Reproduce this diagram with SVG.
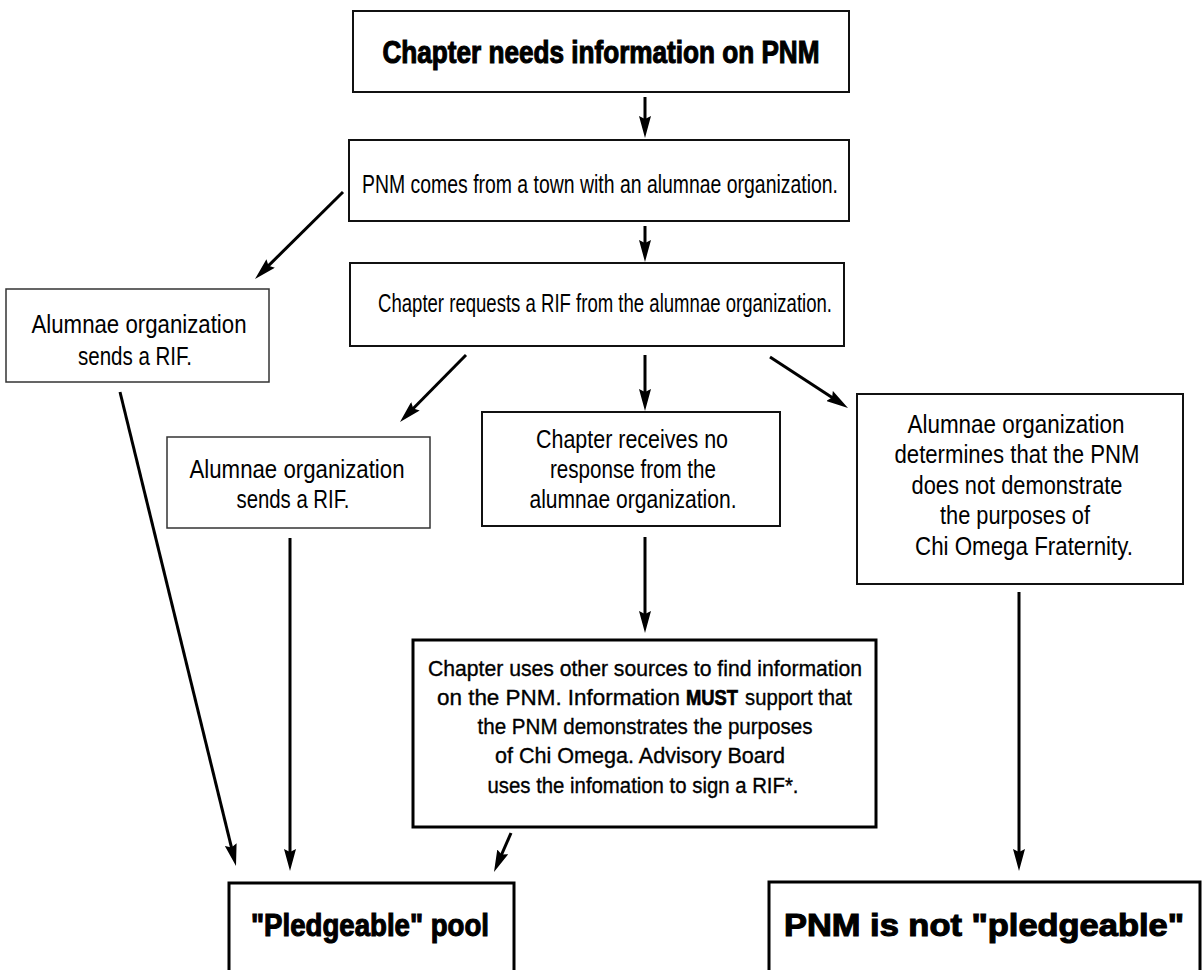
<svg xmlns="http://www.w3.org/2000/svg" width="1202" height="970" viewBox="0 0 1202 970">
<style>
  .box{fill:#fff;stroke:#111;stroke-width:2}
  .thin{fill:#fff;stroke:#333;stroke-width:1.5}
  .heavy{fill:#fff;stroke:#000;stroke-width:3}
  .t{font-family:"Liberation Sans",Arial,sans-serif;font-size:26.5px;fill:#000;text-anchor:middle}
  .m{font-family:"Liberation Sans",Arial,sans-serif;font-size:22px;fill:#000;stroke:#000;stroke-width:0.35;text-anchor:middle}
  .b{font-family:"Liberation Sans",Arial,sans-serif;font-size:31px;font-weight:bold;fill:#000;stroke:#000;stroke-width:1.1;text-anchor:middle}
  .c{stroke:#000;stroke-width:3;fill:none;marker-end:url(#ah)}
</style>
<defs>
  <marker id="ah" markerUnits="userSpaceOnUse" markerWidth="24" markerHeight="12" refX="14" refY="6" orient="auto">
    <path d="M0,0 L22,6 L0,12 L3,6 z" fill="#000"/>
  </marker>
</defs>
<rect width="1202" height="970" fill="#fff"/>
<g id="connectors">
  <line class="c" x1="645" y1="97" x2="645" y2="130"/>
  <line class="c" x1="645" y1="226" x2="645" y2="254"/>
  <line class="c" x1="343" y1="192" x2="260.7" y2="273.4"/>
  <line class="c" x1="120" y1="392" x2="234.1" y2="858.2"/>
  <line class="c" x1="466" y1="355" x2="405.6" y2="416.3"/>
  <line class="c" x1="290" y1="538" x2="290" y2="863"/>
  <line class="c" x1="645" y1="355" x2="645" y2="403"/>
  <line class="c" x1="770" y1="357" x2="841.3" y2="403.6"/>
  <line class="c" x1="645" y1="537" x2="645" y2="625"/>
  <line class="c" x1="1019" y1="592" x2="1019" y2="863"/>
  <line class="c" x1="511" y1="833" x2="497.2" y2="864.7"/>
</g>
<g id="n1">
  <rect class="box" x="353" y="11" width="496" height="81"/>
  <text class="b" x="601" y="63" textLength="437" lengthAdjust="spacingAndGlyphs">Chapter needs information on PNM</text>
</g>
<g id="n2">
  <rect class="box" x="349" y="140" width="500" height="81"/>
  <text class="t" x="600" y="193" textLength="476" lengthAdjust="spacingAndGlyphs">PNM comes from a town with an alumnae organization.</text>
</g>
<g id="n3">
  <rect class="box" x="350" y="263" width="494" height="83"/>
  <text class="t" x="605" y="312" textLength="454" lengthAdjust="spacingAndGlyphs">Chapter requests a RIF from the alumnae organization.</text>
</g>
<g id="n4">
  <rect class="thin" x="6" y="289" width="263" height="93"/>
  <text class="t" x="139" y="333" textLength="215" lengthAdjust="spacingAndGlyphs">Alumnae organization</text>
  <text class="t" x="135" y="365" textLength="114" lengthAdjust="spacingAndGlyphs">sends a RIF.</text>
</g>
<g id="n5">
  <rect class="thin" x="167" y="437" width="263" height="91"/>
  <text class="t" x="297" y="478" textLength="215" lengthAdjust="spacingAndGlyphs">Alumnae organization</text>
  <text class="t" x="293" y="508" textLength="113" lengthAdjust="spacingAndGlyphs">sends a RIF.</text>
</g>
<g id="n6">
  <rect class="box" x="482" y="412" width="298" height="114"/>
  <text class="t" x="632" y="448" textLength="192" lengthAdjust="spacingAndGlyphs">Chapter receives no</text>
  <text class="t" x="633" y="478" textLength="166" lengthAdjust="spacingAndGlyphs">response from the</text>
  <text class="t" x="633" y="508" textLength="207" lengthAdjust="spacingAndGlyphs">alumnae organization.</text>
</g>
<g id="n7">
  <rect class="box" x="857" y="394" width="326" height="190"/>
  <text class="t" x="1016" y="433" textLength="217" lengthAdjust="spacingAndGlyphs">Alumnae organization</text>
  <text class="t" x="1017" y="463" textLength="245" lengthAdjust="spacingAndGlyphs">determines that the PNM</text>
  <text class="t" x="1017" y="494" textLength="211" lengthAdjust="spacingAndGlyphs">does not demonstrate</text>
  <text class="t" x="1015" y="524" textLength="150" lengthAdjust="spacingAndGlyphs">the purposes of</text>
  <text class="t" x="1024" y="555" textLength="218" lengthAdjust="spacingAndGlyphs">Chi Omega Fraternity.</text>
</g>
<g id="n8">
  <rect class="heavy" x="413" y="640" width="463" height="187"/>
  <text class="m" x="645" y="676" textLength="434" lengthAdjust="spacingAndGlyphs">Chapter uses other sources to find information</text>
  <text class="m" x="680" y="705" style="text-anchor:end" textLength="243" lengthAdjust="spacingAndGlyphs">on the PNM. Information</text>
  <text class="m" x="686" y="705" style="text-anchor:start;font-weight:bold;stroke-width:0.7" textLength="52" lengthAdjust="spacingAndGlyphs">MUST</text>
  <text class="m" x="745" y="705" style="text-anchor:start" textLength="107" lengthAdjust="spacingAndGlyphs">support that</text>
  <text class="m" x="645" y="734" textLength="335" lengthAdjust="spacingAndGlyphs">the PNM demonstrates the purposes</text>
  <text class="m" x="640" y="763" textLength="290" lengthAdjust="spacingAndGlyphs">of Chi Omega. Advisory Board</text>
  <text class="m" x="643" y="793" textLength="311" lengthAdjust="spacingAndGlyphs">uses the infomation to sign a RIF*.</text>
</g>
<g id="n9">
  <rect class="heavy" x="229" y="883" width="285" height="100" stroke-width="2.5"/>
  <text class="b" x="370" y="936" textLength="238" lengthAdjust="spacingAndGlyphs">"Pledgeable" pool</text>
</g>
<g id="n10">
  <rect class="heavy" x="769" y="882" width="431" height="100" stroke-width="2.5"/>
  <text class="b" x="984" y="936" textLength="400" lengthAdjust="spacingAndGlyphs">PNM is not "pledgeable"</text>
</g>
</svg>
